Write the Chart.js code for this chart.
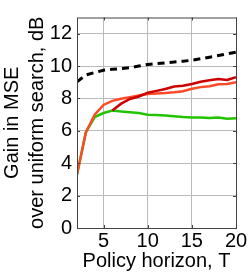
<!DOCTYPE html>
<html><head><meta charset="utf-8">
<script src="https://cdn.jsdelivr.net/npm/chart.js@4/dist/chart.umd.min.js"></script>
<style>html,body{margin:0;padding:0;background:#fff}#w{width:249px;height:274px}</style>
</head><body><div id="w"><canvas id="c"></canvas></div>
<script>
const T = [2,3,4,5,6,7,8,9,10,11,12,13,14,15,16,17,18,19,20];
const upperBound = [9.03,9.45,9.6,9.74,9.8,9.85,9.9,10.0,10.1,10.15,10.2,10.25,10.3,10.36,10.45,10.55,10.65,10.75,10.86];
const darkRed = [null,null,null,null,7.26,7.68,7.97,8.12,8.35,8.47,8.58,8.74,8.78,8.89,9.03,9.12,9.2,9.14,9.32];
const orange = [3.3,5.9,7.0,7.6,7.85,7.98,8.08,8.18,8.27,8.3,8.33,8.38,8.45,8.6,8.7,8.75,8.88,8.9,9.0];
const green = [3.3,5.9,6.85,7.1,7.25,7.2,7.15,7.1,7.0,6.98,6.95,6.9,6.85,6.82,6.83,6.8,6.82,6.75,6.78];
const xTicks = [5,10,15,20];
const yTicks = [0,2,4,6,8,10,12];
const yTitle = ["Gain in MSE","over uniform search, dB"];
const xTitle = "Policy horizon, T";

const pts = a => T.map((t,i)=>({x:t,y:a[i]}));
const font = {family:"'Liberation Sans', Arial, sans-serif", size:20, lineHeight:1.25};
const frame = {id:'frame', afterDraw(c){
  const a=c.chartArea,x=c.ctx,sx=c.scales.x,sy=c.scales.y;
  x.save();x.strokeStyle='#444';x.lineWidth=1;
  x.strokeRect(a.left+0.5,a.top+0.5,a.right-a.left,a.bottom-a.top);
  x.beginPath();
  sx.ticks.forEach(t=>{const p=Math.round(sx.getPixelForValue(t.value))+0.5;x.moveTo(p,a.bottom);x.lineTo(p,a.bottom-3);x.moveTo(p,a.top);x.lineTo(p,a.top+3);});
  sy.ticks.forEach(t=>{const p=Math.round(sy.getPixelForValue(t.value))+0.5;x.moveTo(a.left,p);x.lineTo(a.left+3,p);x.moveTo(a.right,p);x.lineTo(a.right-3,p);});
  x.stroke();x.restore();}};
new Chart(document.getElementById('c'),{
 type:'line',
 data:{datasets:[
  {data:pts(upperBound),borderColor:'#000',borderWidth:3,borderDash:[7,5],pointRadius:0,tension:0},
  {data:pts(darkRed),borderColor:'#cc0000',borderWidth:2.5,pointRadius:0,tension:0,spanGaps:false},
  {data:pts(orange),borderColor:'#ff4a28',borderWidth:2.5,pointRadius:0,tension:0},
  {data:pts(green),borderColor:'#22c400',borderWidth:2.5,pointRadius:0,tension:0}
 ]},
 options:{animation:false,responsive:true,maintainAspectRatio:false,
  layout:{padding:{top:3,right:13,left:0,bottom:0}},
  plugins:{legend:{display:false},tooltip:{enabled:false}},
  scales:{
   x:{type:'linear',min:2,max:20,
    afterBuildTicks:s=>{s.ticks=xTicks.map(v=>({value:v}));},
    afterFit:s=>{s.height=46;},
    grid:{color:'#bbb',tickLength:0,borderDash:[1,3]},
    border:{display:false},
    ticks:{color:'#000',font:font,padding:1,maxRotation:0},
    title:{display:true,text:xTitle,color:'#000',font:font,padding:{top:0,bottom:0}}},
   y:{min:0,max:13,
    afterBuildTicks:s=>{s.ticks=yTicks.map(v=>({value:v}));},
    afterFit:s=>{s.width=77;},
    grid:{color:'#bbb',tickLength:0,borderDash:[1,3]},
    border:{display:false},
    ticks:{color:'#000',font:font,padding:5},
    title:{display:true,text:yTitle,color:'#000',font:font,padding:{top:0,bottom:2}}}
  }},
 plugins:[frame]
});
</script></body></html>
